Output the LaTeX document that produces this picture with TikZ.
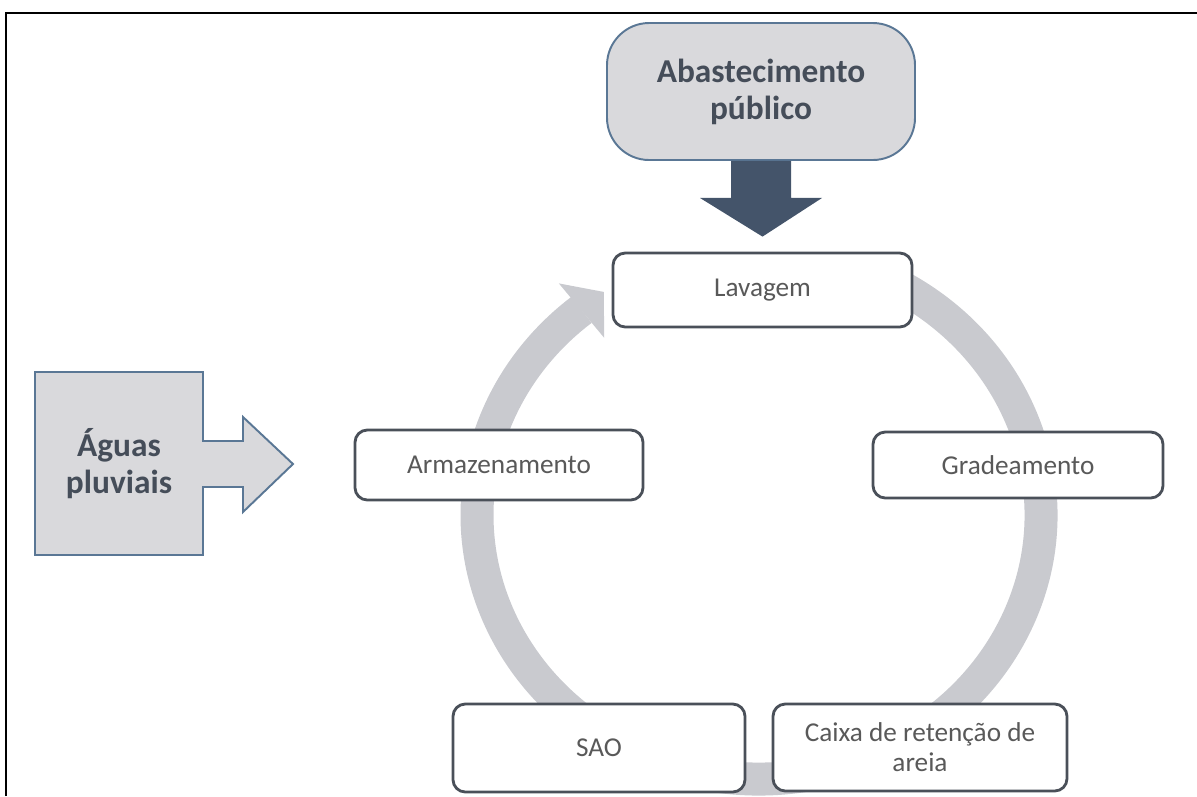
\documentclass[tikz,border=0pt]{standalone}
\usepackage{fontspec}
\setmainfont{Carlito}
\usetikzlibrary{calc}
\definecolor{ringgray}{RGB}{201,202,207}
\definecolor{boxline}{RGB}{74,80,89}
\definecolor{boxtext}{RGB}{89,89,89}
\definecolor{srcfill}{RGB}{217,217,220}
\definecolor{srcline}{RGB}{90,119,149}
\definecolor{srctext}{RGB}{69,77,89}
\definecolor{arrowdark}{RGB}{68,84,106}
\newcommand{\pxu}{0.02cm}
\tikzset{
  stagebox/.style={draw=boxline, fill=white, line width=1.6pt, rounded corners=7pt,
    text=boxtext, align=center, inner sep=0pt, font=\fontsize{15.5}{17}\selectfont},
  sourcebox/.style={draw=srcline, fill=srcfill, line width=1.1pt,
    text=srctext, align=center, font=\bfseries\fontsize{19}{21}\selectfont},
  box size/.style 2 args={minimum width=#1*\pxu, minimum height=#2*\pxu}
}

\begin{document}
\begin{tikzpicture}[x=\pxu, y=-\pxu, line join=miter]

  \useasboundingbox (0,0) rectangle (1197,796);

  % frame
  \draw[line width=1.2pt] (6,796) -- (6,13) -- (1197,13);

  % cycle ring
  \coordinate (ctr) at (759,515);
  \draw[ringgray, line width=33*\pxu] ($(ctr)+(-63:282 and 264)$)
    arc[start angle=-63, end angle=231, x radius=282, y radius=264];
  \fill[ringgray] ($(ctr)+(231:318 and 298)$) -- ($(ctr)+(237:285 and 266)$) -- ($(ctr)+(231:246 and 228)$) -- cycle;

  % stages
  \node[stagebox, box size={299}{74}] (lavagem) at (762.5,290) {Lavagem};
  \node[stagebox, box size={290}{66}] (grade) at (1018,465) {Gradeamento};
  \node[stagebox, box size={294}{87}] (caixa) at (920,747.5) {Caixa de retenção de\\areia};
  \node[stagebox, box size={292}{88}] (sao) at (599,748) {SAO};
  \node[stagebox, box size={288}{70}] (armaz) at (499,465) {Armazenamento};

  % public supply
  \node[sourcebox, rounded corners=24pt, box size={308}{137}] (abast) at (761,91.5) {Abastecimento\\público};
  \coordinate (tip) at ($(lavagem.north)+(0,-15)$);
  \fill[arrowdark] ($(abast.south)+(-30,0)$) -- ($(abast.south)+(30,0)$) -- ++(0,37) -- ++(31,0)
    -- (tip) -- ($(abast.south)+(-61,37)$) -- ++(31,0) -- cycle;

  % rain water
  \draw[srcline, fill=srcfill, line width=1.1pt] (35,372) -- (203,372) -- (203,441) -- (243,441)
    -- (243,417) -- (293,464) -- (243,512) -- (243,487) -- (203,487) -- (203,555) -- (35,555) -- cycle;
  \node[text=srctext, align=center, font=\bfseries\fontsize{19}{21}\selectfont] (pluv) at (119,464) {Águas\\pluviais};

\end{tikzpicture}
\end{document}
